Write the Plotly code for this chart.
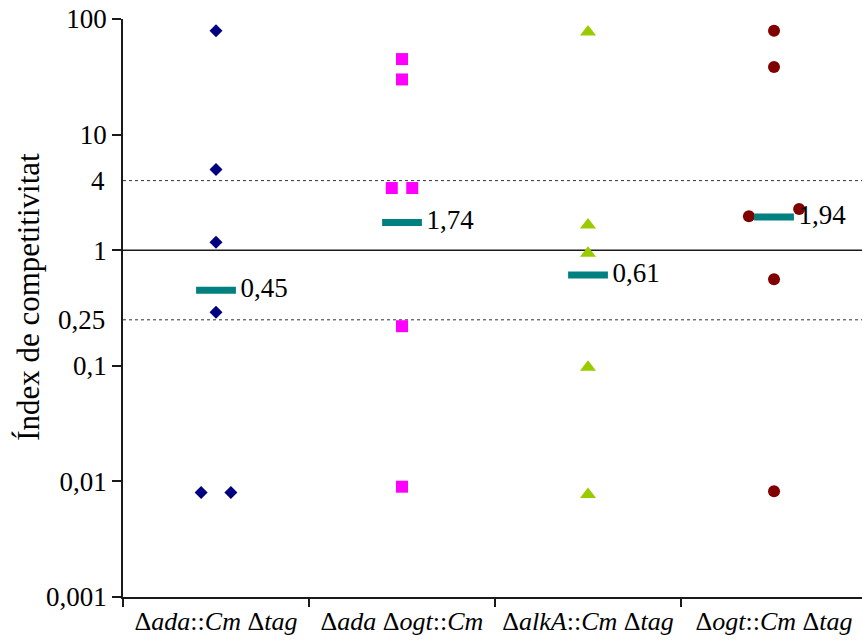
import numpy as np
import plotly.graph_objects as go

# Strains (category labels) and competitivity index of each replicate
strains = [
    "Δ<i>ada</i>::<i>Cm</i> Δ<i>tag</i>",
    "Δ<i>ada</i> Δ<i>ogt</i>::<i>Cm</i>",
    "Δ<i>alkA</i>::<i>Cm</i> Δ<i>tag</i>",
    "Δ<i>ogt</i>::<i>Cm</i> Δ<i>tag</i>",
]
ada_tag = [79, 5.0, 1.17, 0.29, 0.008, 0.008]
ada_ogt = [45, 30, 3.45, 3.45, 0.22, 0.009]
alkA_tag = [77, 1.65, 0.94, 0.097, 0.0077]
ogt_tag = [79, 38.5, 2.27, 1.97, 0.56, 0.0082]
geo_means = [0.45, 1.74, 0.61, 1.94]

# Y tick labels
decade_vals = [0.001, 0.01, 0.1, 1, 10, 100]
decade_text = ["0,001", "0,01", "0,1", "1", "10", "100"]
threshold_vals = [0.25, 4]
threshold_text = ["0,25", "4"]

series = [ada_tag, ada_ogt, alkA_tag, ogt_tag]
symbols = ["diamond", "square", "triangle-up", "circle"]
colors = ["#000080", "#FF00FF", "#99CC00", "#800000"]
sizes = [10, 12, 14, 12]
spreads = [0.16, 0.11, 0.16, 0.27]

FONT = "Liberation Serif, Times New Roman, DejaVu Serif, serif"
X_MAX = 3.473


def dodge(values, center, spread):
    """Place tied (or nearly tied) replicates side by side."""
    logs = np.log10(values)
    order = np.argsort(logs)
    xs = np.full(len(values), float(center))
    clusters, current = [], [order[0]]
    for a, b in zip(order[:-1], order[1:]):
        if abs(logs[b] - logs[a]) < 0.1:
            current.append(b)
        else:
            clusters.append(current)
            current = [b]
    clusters.append(current)
    for cl in clusters:
        n = len(cl)
        if n > 1:
            offs = np.linspace(-spread / 2, spread / 2, n)
            for idx, o in zip(cl, offs):
                xs[idx] = center + o
    return xs


fig = go.Figure()

# reference lines: parity at 1, thresholds at 4 and 0.25
fig.add_shape(type="line", xref="paper", x0=0, x1=1, y0=1, y1=1,
              line=dict(color="#1a1a1a", width=1.5), layer="below")
for v in threshold_vals:
    fig.add_shape(type="line", xref="paper", x0=0, x1=1, y0=v, y1=v,
                  line=dict(color="#333333", width=1, dash="dot"), layer="below")

for i, vals in enumerate(series):
    fig.add_trace(go.Scatter(
        x=dodge(vals, i, spreads[i]), y=vals, mode="markers",
        marker=dict(symbol=symbols[i], color=colors[i], size=sizes[i],
                    line=dict(width=0)),
        showlegend=False, hoverinfo="y",
    ))

# geometric mean bars
half = 0.107
bx, by = [], []
for i, m in enumerate(geo_means):
    bx += [i - half, i + half, None]
    by += [m, m, None]
fig.add_trace(go.Scatter(x=bx, y=by, mode="lines",
                         line=dict(color="#008080", width=7),
                         showlegend=False, hoverinfo="skip"))
fig.add_trace(go.Scatter(
    x=[i + half + 0.025 for i in range(len(geo_means))], y=geo_means,
    mode="text", text=[f"{m:.2f}".replace(".", ",") for m in geo_means],
    textposition="middle right",
    textfont=dict(family=FONT, size=27, color="black"),
    showlegend=False, hoverinfo="skip", cliponaxis=False,
))

# threshold tick labels (no tick marks)
for v, t in zip(threshold_vals, threshold_text):
    fig.add_annotation(xref="paper", x=0, y=np.log10(v), text=t,
                       showarrow=False, xanchor="right", xshift=-16,
                       font=dict(family=FONT, size=27, color="black"))

fig.add_annotation(xref="paper", yref="paper", x=-0.128, y=0.52,
                   text="Índex de competitivitat", textangle=-90,
                   showarrow=False, xanchor="center", yanchor="middle",
                   font=dict(family=FONT, size=31, color="black"))

fig.update_layout(
    width=862, height=640,
    margin=dict(l=123, r=0, t=19, b=43),
    paper_bgcolor="white", plot_bgcolor="white",
    font=dict(family=FONT, size=27, color="black"),
    xaxis=dict(
        range=[-0.5, X_MAX], showgrid=False, zeroline=False,
        showline=True, linecolor="#1a1a1a", linewidth=1.5,
        tickmode="array", tickvals=list(range(len(strains))), ticktext=strains,
        ticks="", tickfont=dict(family=FONT, size=26, color="black"),
        minor=dict(tickmode="array", tickvals=[-0.5, 0.5, 1.5, 2.5],
                   ticks="outside", ticklen=8, tickcolor="#1a1a1a", tickwidth=1.5,
                   showgrid=False),
        fixedrange=True,
    ),
    yaxis=dict(
        type="log", range=[-3, 2], showgrid=False, zeroline=False,
        showline=True, linecolor="#1a1a1a", linewidth=1.5,
        tickmode="array", tickvals=decade_vals, ticktext=decade_text,
        ticks="outside", ticklen=9, tickcolor="#1a1a1a", tickwidth=1.5,
        tickfont=dict(family=FONT, size=27, color="black"),
        fixedrange=True,
    ),
)

fig.write_html("out.html")
